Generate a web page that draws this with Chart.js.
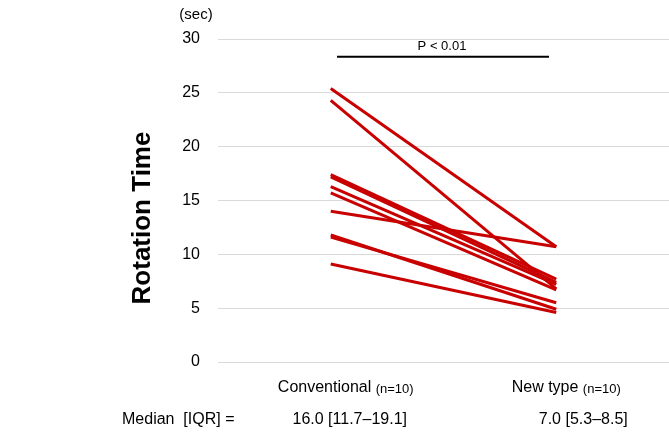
<!DOCTYPE html>
<html>
<head>
<meta charset="utf-8">
<script src="https://cdn.jsdelivr.net/npm/chart.js@4/dist/chart.umd.min.js"></script>
<style>
  html, body { margin: 0; padding: 0; background: #fff; }
  #wrap { width: 669px; height: 442px; position: relative; }
</style>
</head>
<body>
<div id="wrap"><canvas id="grafico"></canvas></div>
<script>
const categorias = ['Conventional', 'New type'];
const amostras = ['(n=10)', '(n=10)'];
const medianas = ['16.0 [11.7\u201319.1]', '7.0 [5.3\u20138.5]'];
const convencional = [25.4, 24.3, 17.4, 17.2, 16.3, 15.7, 14.0, 11.8, 11.6, 9.1];
const novoTipo = [10.7, 6.8, 7.7, 7.4, 7.2, 6.7, 10.7, 4.9, 5.5, 4.6];
const ticksY = [0, 5, 10, 15, 20, 25, 30];
const valorP = 'P < 0.01';
const alturaBarraP = 28.35;

const FONTE = '"Liberation Sans", Arial, sans-serif';
const VERMELHO = '#c80000';

const datasets = convencional.map((v, i) => ({
    data: [v, novoTipo[i]],
    borderColor: VERMELHO,
    borderWidth: 3,
    pointRadius: 0,
    fill: false,
    tension: 0
}));

// textos extras: unidade, titulo, barra de significancia, rotulos e mediana
const extras = {
    id: 'extras',
    afterDraw(chart) {
        const ctx = chart.ctx;
        const x = chart.scales.x;
        const y = chart.scales.y;
        ctx.save();
        ctx.fillStyle = '#000';
        ctx.textBaseline = 'middle';

        ctx.font = '15px ' + FONTE;
        ctx.textAlign = 'center';
        ctx.fillText('(sec)', 196, 15);

        ctx.save();
        ctx.translate(143, 218);
        ctx.rotate(-Math.PI / 2);
        ctx.font = 'bold 26px ' + FONTE;
        ctx.fillText('Rotation Time', 0, 0);
        ctx.restore();

        const yp = y.getPixelForValue(alturaBarraP);
        ctx.strokeStyle = '#000';
        ctx.lineWidth = 2;
        ctx.beginPath();
        ctx.moveTo(337, yp);
        ctx.lineTo(549, yp);
        ctx.stroke();
        ctx.font = '13px ' + FONTE;
        ctx.fillText(valorP, 442, yp - 10);

        const deslocRotulo = [15, 10];
        const deslocMediana = [19, 27];
        categorias.forEach((c, i) => {
            const cx = x.getPixelForValue(i);
            ctx.font = '16px ' + FONTE;
            const w1 = ctx.measureText(c + ' ').width;
            ctx.font = '13px ' + FONTE;
            const w2 = ctx.measureText(amostras[i]).width;
            let sx = cx + deslocRotulo[i] - (w1 + w2) / 2;
            ctx.textAlign = 'left';
            ctx.font = '16px ' + FONTE;
            ctx.fillText(c, sx, 388);
            ctx.font = '13px ' + FONTE;
            ctx.fillText(amostras[i], sx + w1, 389);

            ctx.font = '16px ' + FONTE;
            ctx.textAlign = 'center';
            ctx.fillText(medianas[i], cx + deslocMediana[i], 420);
        });
        ctx.textAlign = 'left';
        ctx.font = '16px ' + FONTE;
        ctx.fillText('Median  [IQR] =', 122, 420);
        ctx.restore();
    }
};

new Chart(document.getElementById('grafico').getContext('2d'), {
    type: 'line',
    data: { labels: categorias, datasets: datasets },
    options: {
        responsive: true,
        maintainAspectRatio: false,
        animation: false,
        layout: { padding: { top: 39, bottom: 72, right: 0, left: 0 } },
        plugins: { legend: { display: false }, tooltip: { enabled: false } },
        scales: {
            x: {
                offset: true,
                grid: { display: false },
                border: { display: false },
                ticks: { display: false }
            },
            y: {
                min: 0,
                max: 30,
                afterFit(scale) { scale.width = 218; },
                afterBuildTicks(scale) { scale.ticks = ticksY.map(v => ({ value: v })); },
                grid: { color: '#d9d9d9', lineWidth: 1, drawTicks: false },
                border: { display: false },
                ticks: {
                    padding: 18,
                    color: '#000',
                    font: { family: FONTE, size: 16 }
                }
            }
        }
    },
    plugins: [extras]
});
</script>
</body>
</html>
